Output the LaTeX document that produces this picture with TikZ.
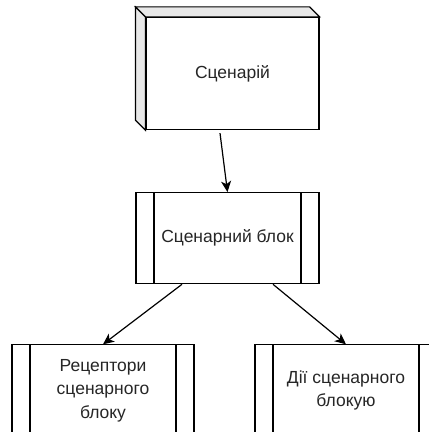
\documentclass[tikz,border=0pt]{standalone}
\usepackage{fontspec}
\setmainfont{Liberation Sans}
\usepackage{tikz}
\usetikzlibrary{arrows.meta, positioning}
\tikzset{
every picture/.style={line width=1.2pt}, % all strokes are as thick as this
>={Stealth[length=11pt, width=10pt, inset=3pt]}, % arrow head of the connectors
every node/.style={font=\fontsize{17.5}{23.5}\selectfont, text=black!85, align=center, inner sep=0pt}, % text of the boxes
cube/.style={draw, fill=white, minimum width=173pt, minimum height=112pt}, % front face of the 3d box
side/.style={draw, fill=black!9}, % the faces round the front face
process/.style={draw, fill=white, minimum width=183pt, minimum height=91pt,
  path picture={
    \draw ([xshift=18pt]path picture bounding box.north west) -- ([xshift=18pt]path picture bounding box.south west);
    \draw ([xshift=-18pt]path picture bounding box.north east) -- ([xshift=-18pt]path picture bounding box.south east);
  }}, % box with a stripe at each side
}
\begin{document}
\begin{tikzpicture}[x=1pt, y=1pt]
    \useasboundingbox (0,0) rectangle (429,432);
    \node[cube] (scen) at (232.5,358.5) {Сценарій};
    \filldraw[side] (scen.north west) -- ++(-10,10) -- ([shift={(-10,10)}]scen.north east) -- (scen.north east) -- cycle;
    \filldraw[side] (scen.north west) -- ++(-10,10) -- ([shift={(-10,10)}]scen.south west) -- (scen.south west) -- cycle;

    \node[process, below=62pt of scen, xshift=-5pt] (blok) {Сценарний блок};
    \node[process, below=60pt of blok, xshift=-124.5pt, minimum width=182pt] (recep) {Рецептори\\сценарного\\блоку};
    \node[process, below=60pt of blok, xshift=118.5pt, minimum width=182pt] (dii) {Дії сценарного\\блокую};

    \draw[->] ([xshift=-12.5pt, yshift=-3pt]scen.south) -- (blok.north);
    \draw[->] ([xshift=-45.5pt]blok.south) -- (recep.north);
    \draw[->] ([xshift=45.5pt]blok.south) -- (dii.north);
\end{tikzpicture}
\end{document}
